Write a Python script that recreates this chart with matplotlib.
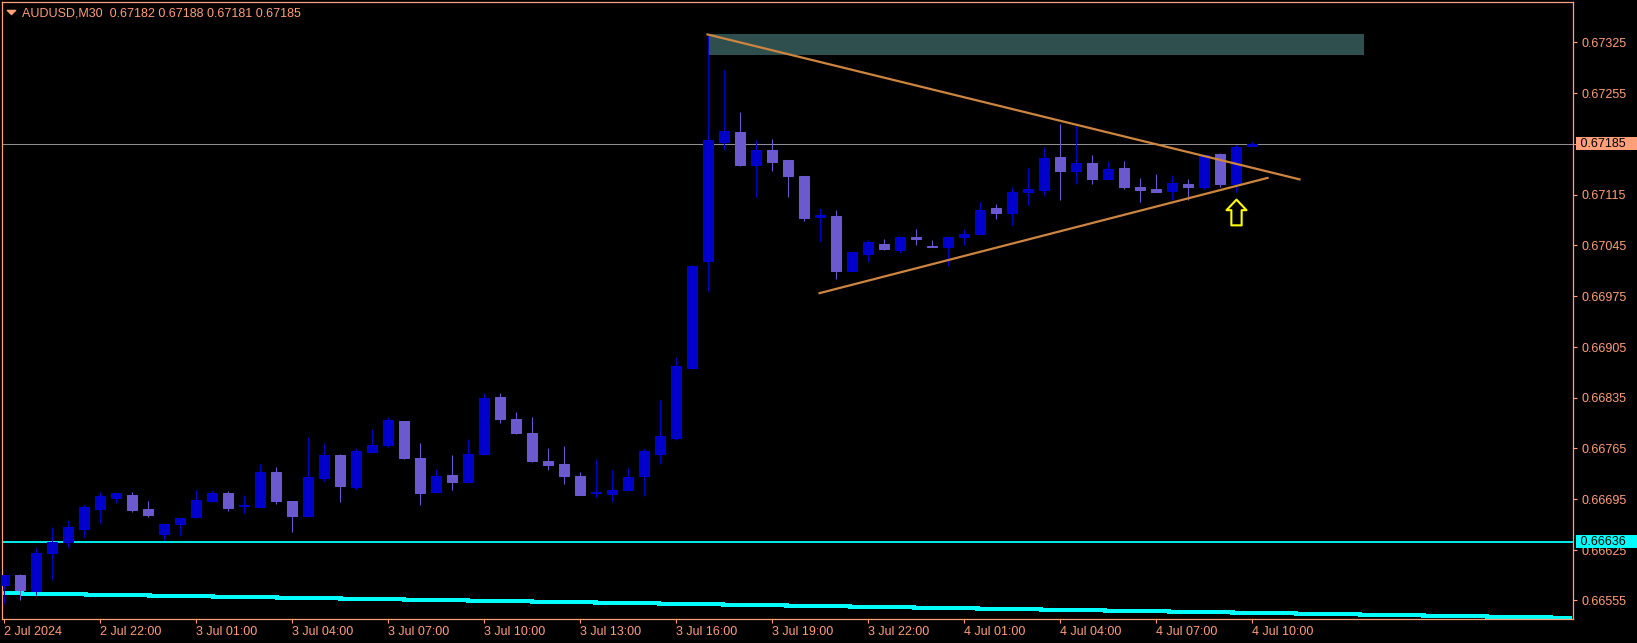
import numpy as np
import matplotlib.pyplot as plt
import matplotlib.transforms as mtransforms
from matplotlib.path import Path
from matplotlib.patches import Rectangle

# AUDUSD M30 bars, 2 Jul 19:00 .. 4 Jul 10:00
opens = [0.66576, 0.66590, 0.66568, 0.66621, 0.66636, 0.66654, 0.66681, 0.66697, 0.66701, 0.66681,
         0.66647, 0.66661, 0.66670, 0.66692, 0.66703, 0.66685, 0.66684, 0.66732, 0.66692, 0.66672,
         0.66724, 0.66755, 0.66712, 0.66760, 0.66770, 0.66803, 0.66752, 0.66705, 0.66728, 0.66719,
         0.66757, 0.66836, 0.66806, 0.66786, 0.66748, 0.66743, 0.66727, 0.66703, 0.66702, 0.66708,
         0.66727, 0.66757, 0.66779, 0.66876, 0.67024, 0.67188, 0.67202, 0.67156, 0.67177, 0.67163,
         0.67141, 0.67084, 0.67086, 0.67010, 0.67033, 0.67047, 0.67039, 0.67057, 0.67044, 0.67042,
         0.67056, 0.67060, 0.67096, 0.67090, 0.67118, 0.67122, 0.67167, 0.67147, 0.67158, 0.67137,
         0.67152, 0.67126, 0.67123, 0.67120, 0.67130, 0.67126, 0.67171, 0.67129, 0.67182]
highs = [0.66590, 0.66592, 0.66628, 0.66656, 0.66666, 0.66687, 0.66705, 0.66705, 0.66705, 0.66692,
         0.66661, 0.66669, 0.66708, 0.66706, 0.66706, 0.66701, 0.66743, 0.66739, 0.66692, 0.66781,
         0.66772, 0.66757, 0.66766, 0.66792, 0.66808, 0.66803, 0.66772, 0.66737, 0.66755, 0.66778,
         0.66841, 0.66841, 0.66815, 0.66808, 0.66766, 0.66768, 0.66732, 0.66750, 0.66735, 0.66738,
         0.66764, 0.66832, 0.66891, 0.67018, 0.67336, 0.67287, 0.67229, 0.67191, 0.67192, 0.67163,
         0.67141, 0.67097, 0.67094, 0.67036, 0.67053, 0.67054, 0.67058, 0.67068, 0.67053, 0.67058,
         0.67068, 0.67105, 0.67102, 0.67125, 0.67152, 0.67181, 0.67213, 0.67209, 0.67169, 0.67162,
         0.67162, 0.67138, 0.67144, 0.67142, 0.67137, 0.67171, 0.67173, 0.67184, 0.67188]
lows = [0.66550, 0.66555, 0.66562, 0.66583, 0.66629, 0.66643, 0.66662, 0.66690, 0.66677, 0.66670,
        0.66639, 0.66644, 0.66669, 0.66691, 0.66679, 0.66675, 0.66684, 0.66688, 0.66650, 0.66672,
        0.66720, 0.66691, 0.66709, 0.66760, 0.66767, 0.66750, 0.66687, 0.66703, 0.66708, 0.66719,
        0.66756, 0.66800, 0.66785, 0.66746, 0.66735, 0.66716, 0.66700, 0.66698, 0.66691, 0.66706,
        0.66699, 0.66743, 0.66777, 0.66875, 0.66982, 0.67176, 0.67154, 0.67111, 0.67148, 0.67112,
        0.67078, 0.67051, 0.66998, 0.67009, 0.67022, 0.67039, 0.67035, 0.67046, 0.67042, 0.67017,
        0.67046, 0.67060, 0.67082, 0.67073, 0.67100, 0.67114, 0.67108, 0.67129, 0.67129, 0.67136,
        0.67123, 0.67105, 0.67118, 0.67108, 0.67108, 0.67123, 0.67125, 0.67119, 0.67181]
closes = [0.66590, 0.66569, 0.66620, 0.66636, 0.66656, 0.66684, 0.66699, 0.66703, 0.66680, 0.66673,
          0.66661, 0.66669, 0.66694, 0.66703, 0.66683, 0.66686, 0.66732, 0.66692, 0.66672, 0.66726,
          0.66755, 0.66713, 0.66761, 0.66770, 0.66804, 0.66752, 0.66703, 0.66727, 0.66719, 0.66757,
          0.66835, 0.66806, 0.66786, 0.66748, 0.66742, 0.66727, 0.66701, 0.66704, 0.66708, 0.66726,
          0.66761, 0.66782, 0.66879, 0.67017, 0.67191, 0.67203, 0.67156, 0.67177, 0.67160, 0.67141,
          0.67083, 0.67087, 0.67009, 0.67036, 0.67049, 0.67040, 0.67056, 0.67054, 0.67042, 0.67057,
          0.67061, 0.67094, 0.67090, 0.67119, 0.67123, 0.67166, 0.67147, 0.67159, 0.67137, 0.67151,
          0.67125, 0.67122, 0.67119, 0.67131, 0.67126, 0.67170, 0.67130, 0.67181, 0.67185]

time_labels = ['2 Jul 2024', '2 Jul 22:00', '3 Jul 01:00', '3 Jul 04:00', '3 Jul 07:00',
               '3 Jul 10:00', '3 Jul 13:00', '3 Jul 16:00', '3 Jul 19:00', '3 Jul 22:00',
               '4 Jul 01:00', '4 Jul 04:00', '4 Jul 07:00', '4 Jul 10:00']
time_label_bars = [0, 6, 12, 18, 24, 30, 36, 42, 48, 54, 60, 66, 72, 78]
price_ticks = [0.66555, 0.66625, 0.66695, 0.66765, 0.66835, 0.66905,
               0.66975, 0.67045, 0.67115, 0.67185, 0.67255, 0.67325]

# objects drawn on the chart (bar index, price)
upper_trend = ([44, 81], [0.67336, 0.67136])
lower_trend = ([51, 79], [0.66979, 0.67138])
zone_bars = (44, 85)
zone_prices = (0.67308, 0.67337)
level_price = 0.66636
last_price = 0.67185
slope_line = ([-0.1, 98.0], [0.66565, 0.66531])
arrow_bar, arrow_price = 77, 0.67091
header = 'AUDUSD,M30  0.67182 0.67188 0.67181 0.67185'

# 风格
plt.rcParams['font.family'] = ['Liberation Sans', 'DejaVu Sans']
plt.rcParams['font.size'] = 9
fg = '#FFA07A'
bull_color = '#0000CD'
bear_color = '#6A5ACD'
trend_color = '#CD853F'
cyan = '#00FFFF'

fig = plt.figure(figsize=(16.37, 6.434), dpi=100, facecolor='black')
ax = fig.add_axes([2 / 1637, 1 - 619 / 643, 1571 / 1637, 617 / 643], facecolor='black')

o, h, l, c = (np.array(v) for v in (opens, highs, lows, closes))
x = np.arange(len(o))
colors = np.where(c >= o, bull_color, bear_color)

# 蜡烛
ax.vlines(x, l, h, colors=colors, linewidth=0.75, zorder=3)
ax.bar(x, np.abs(c - o), bottom=np.minimum(o, c), width=0.625, color=colors,
       edgecolor=colors, linewidth=0.75, zorder=4)

# zone + lines
ax.add_patch(Rectangle((zone_bars[0], zone_prices[0]), zone_bars[1] - zone_bars[0],
                       zone_prices[1] - zone_prices[0], facecolor='#2F4F4F', edgecolor='none', zorder=1))
ax.plot(*upper_trend, color=trend_color, lw=1.6, zorder=5)
ax.plot(*lower_trend, color=trend_color, lw=1.6, zorder=5)
ax.axhline(last_price, color='#8F8F8F', lw=0.75, zorder=2)
ax.axhline(level_price, color=cyan, lw=1.3, zorder=2)
ax.plot(*slope_line, color=cyan, lw=2.2, antialiased=False, solid_capstyle='butt', zorder=2)

arrow = Path([(0, 1), (0.78, 0.18), (0.4, 0.18), (0.4, -1), (-0.4, -1), (-0.4, 0.18), (-0.78, 0.18), (0, 1)],
             [Path.MOVETO] + [Path.LINETO] * 6 + [Path.CLOSEPOLY])
ax.plot([arrow_bar], [arrow_price], marker=arrow, markersize=18.5, markerfacecolor='black',
        markeredgecolor='#FFFF00', markeredgewidth=1.5, zorder=6)

# 坐标轴
ax.set_xlim(-0.094, 98.09)
ax.set_ylim(0.665294, 0.673813)
for s in ax.spines.values():
    s.set_color(fg)
    s.set_linewidth(0.9)
ax.yaxis.tick_right()
ax.set_yticks(price_ticks)
# the tick label at the last price sits under the price box
ax.set_yticklabels(['' if p == last_price else f'{p:.5f}' for p in price_ticks])
ax.set_xticks(time_label_bars)
ax.set_xticklabels(time_labels)
for lbl in ax.get_xticklabels():
    lbl.set_ha('left')
ax.tick_params(axis='y', colors=fg, length=3, width=0.8, pad=3)
ax.tick_params(axis='x', colors=fg, length=3, width=0.8, pad=1.5)

# price boxes on the right
trans = mtransforms.blended_transform_factory(ax.transAxes, ax.transData)
ax.text(1.0025, last_price, ' 0.67185   ', transform=trans, ha='left', va='center', color='black',
        bbox=dict(boxstyle='square,pad=0.05', fc=fg, ec='none'), clip_on=False, zorder=10)
ax.text(1.0025, level_price, ' 0.66636   ', transform=trans, ha='left', va='center', color='black',
        bbox=dict(boxstyle='square,pad=0.05', fc=cyan, ec='none'), clip_on=False, zorder=10)

# header
tri = Path([(-1, 0.5), (1, 0.5), (0, -0.5), (-1, 0.5)], [Path.MOVETO, Path.LINETO, Path.LINETO, Path.CLOSEPOLY])
ax.plot([0.0056], [0.9838], marker=tri, markersize=6, color=fg, transform=ax.transAxes, clip_on=False)
fig.text(22 / 1637, 1 - 13 / 643, header, color=fg, va='center', fontsize=9)

plt.savefig('out.png', dpi=100, facecolor='black')
plt.close(fig)
